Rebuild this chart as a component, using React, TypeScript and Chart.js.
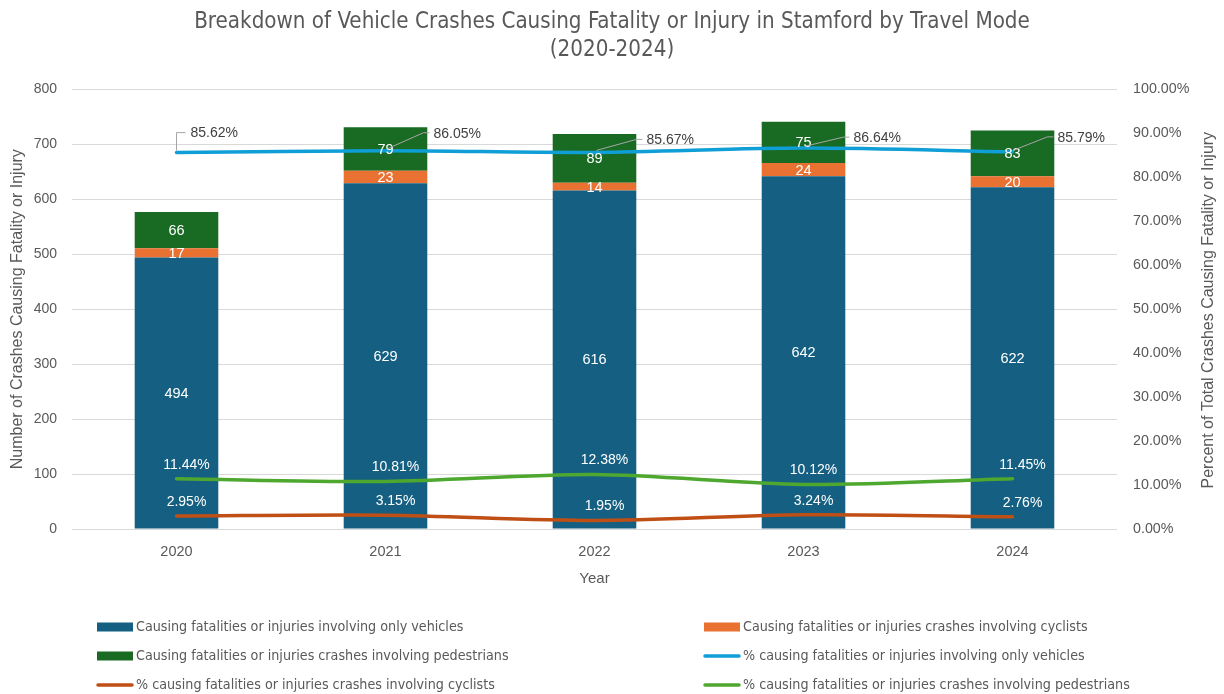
import React, { useEffect, useRef } from "react";
import { Chart, registerables } from "chart.js";

Chart.register(...registerables);

const years = ["2020", "2021", "2022", "2023", "2024"];
const vehiclesOnly = [494, 629, 616, 642, 622];
const cyclists = [17, 23, 14, 24, 20];
const pedestrians = [66, 79, 89, 75, 83];
const pctVehicles = [85.62, 86.05, 85.67, 86.64, 85.79];
const pctCyclists = [2.95, 3.15, 1.95, 3.24, 2.76];
const pctPedestrians = [11.44, 10.81, 12.38, 10.12, 11.45];

const seriesLabels = [
  "Causing fatalities or injuries involving only vehicles",
  "Causing fatalities or injuries crashes involving cyclists",
  "Causing fatalities or injuries crashes involving pedestrians",
  "% causing fatalities or injuries involving only vehicles",
  "% causing fatalities or injuries crashes involving cyclists",
  "% causing fatalities or injuries crashes involving pedestrians",
];

const titleLines = [
  "Breakdown of Vehicle Crashes Causing Fatality or Injury in Stamford by Travel Mode",
  "(2020-2024)",
];
const leftAxisTitle = "Number of Crashes Causing Fatality or Injury";
const rightAxisTitle = "Percent of Total Crashes Causing Fatality or Injury";
const xAxisTitle = "Year";

const GREY = "#595959";
const NARROW = '"Liberation Sans Narrow", "DejaVu Sans Condensed", "Arial Narrow", sans-serif';
const SANS = '"Liberation Sans", Arial, sans-serif';

// label offsets for the blue line callouts (annotation placement)
const calloutOffsets = [
  { dx: 14, dy: -20, elbow: true },
  { dx: 48, dy: -18, elbow: false },
  { dx: 52, dy: -13, elbow: false },
  { dx: 50, dy: -11, elbow: false },
  { dx: 45, dy: -15, elbow: false },
];

const labelsPlugin = {
  id: "customLabels",
  afterDatasetsDraw(chart: any) {
    const ctx = chart.ctx;
    ctx.save();
    chart.data.datasets.forEach((ds: any, di: number) => {
      const meta = chart.getDatasetMeta(di);
      if (meta.hidden) return;
      meta.data.forEach((el: any, i: number) => {
        const v = ds.data[i];
        if (ds.type === "bar") {
          const cy = (el.y + el.base) / 2;
          ctx.font = `14.5px ${SANS}`;
          ctx.fillStyle = "#ffffff";
          ctx.textAlign = "center";
          ctx.textBaseline = "middle";
          ctx.fillText(String(v), el.x, cy + 1);
        } else if (di === 3) {
          const o = calloutOffsets[i];
          const tx = el.x + o.dx;
          const ty = el.y + o.dy;
          ctx.strokeStyle = "#A6A6A6";
          ctx.lineWidth = 1;
          ctx.beginPath();
          if (o.elbow) {
            ctx.moveTo(el.x, el.y - 2);
            ctx.lineTo(el.x, ty);
            ctx.lineTo(tx - 5, ty);
          } else {
            ctx.moveTo(el.x + 2, el.y - 2);
            ctx.lineTo(tx - 10, ty);
            ctx.lineTo(tx - 4, ty);
          }
          ctx.stroke();
          ctx.font = `14px ${SANS}`;
          ctx.fillStyle = "#404040";
          ctx.textAlign = "left";
          ctx.textBaseline = "middle";
          ctx.fillText(v.toFixed(2) + "%", tx, ty + 1);
        } else {
          ctx.font = `14px ${SANS}`;
          ctx.fillStyle = "#ffffff";
          ctx.textAlign = "center";
          ctx.textBaseline = "middle";
          ctx.fillText(v.toFixed(2) + "%", el.x + 10, el.y - 14);
        }
      });
    });
    ctx.restore();
  },
  afterDraw(chart: any) {
    const ctx = chart.ctx;
    ctx.save();
    // right axis title, reading bottom-to-top
    const ca = chart.chartArea;
    ctx.save();
    ctx.translate(1209, (ca.top + ca.bottom) / 2 + 1);
    ctx.rotate(-Math.PI / 2);
    ctx.font = `16px ${SANS}`;
    ctx.fillStyle = GREY;
    ctx.textAlign = "center";
    ctx.textBaseline = "middle";
    ctx.fillText(rightAxisTitle, 0, 0);
    ctx.restore();
    // legend
    const colX = [97, 704];
    const rowY = [627, 656, 685];
    chart.data.datasets.forEach((ds: any, i: number) => {
      const col = i % 2;
      const row = Math.floor(i / 2);
      const x = colX[col];
      const y = rowY[row];
      if (ds.type === "bar") {
        ctx.fillStyle = ds.backgroundColor;
        ctx.fillRect(x, y - 4.5, 36, 9);
      } else {
        ctx.strokeStyle = ds.borderColor;
        ctx.lineWidth = 3.5;
        ctx.lineCap = "round";
        ctx.beginPath();
        ctx.moveTo(x + 1, y);
        ctx.lineTo(x + 35, y);
        ctx.stroke();
      }
      ctx.font = `14.2px ${NARROW}`;
      ctx.fillStyle = GREY;
      ctx.textAlign = "left";
      ctx.textBaseline = "middle";
      ctx.fillText(ds.label, x + 39, y);
    });
    ctx.restore();
  },
};

export default function App() {
  const ref = useRef<HTMLCanvasElement>(null);
  useEffect(() => {
    document.body.style.margin = "0";
    const canvas = ref.current!;
    const barCommon = { type: "bar" as const, yAxisID: "y", stack: "s", order: 2, categoryPercentage: 1, barPercentage: 0.4 };
    const lineCommon = { type: "line" as const, yAxisID: "y1", order: 1, pointRadius: 0, borderWidth: 3.5, tension: 0.3, fill: false, borderCapStyle: "round" as const };
    const chart = new Chart(canvas, {
      data: {
        labels: years,
        datasets: [
          { ...barCommon, label: seriesLabels[0], data: vehiclesOnly, backgroundColor: "#156082" },
          { ...barCommon, label: seriesLabels[1], data: cyclists, backgroundColor: "#E97132" },
          { ...barCommon, label: seriesLabels[2], data: pedestrians, backgroundColor: "#196B24" },
          { ...lineCommon, label: seriesLabels[3], data: pctVehicles, borderColor: "#0F9ED5", backgroundColor: "#0F9ED5" },
          { ...lineCommon, label: seriesLabels[4], data: pctCyclists, borderColor: "#C04F15", backgroundColor: "#C04F15" },
          { ...lineCommon, label: seriesLabels[5], data: pctPedestrians, borderColor: "#4EA72E", backgroundColor: "#4EA72E" },
        ] as any,
      },
      options: {
        responsive: false,
        animation: false,
        devicePixelRatio: 1,
        layout: { padding: { left: 0, right: 0, top: 0, bottom: 105 } },
        plugins: {
          legend: { display: false },
          tooltip: { enabled: false },
          title: {
            display: true,
            text: titleLines,
            color: GREY,
            font: { family: NARROW, size: 22.2, weight: "normal", lineHeight: 1.27 },
            padding: { top: 8, bottom: 25 },
          },
        },
        scales: {
          x: {
            stacked: true,
            grid: { display: false },
            border: { display: false },
            ticks: { color: GREY, font: { family: SANS, size: 14.5 }, padding: 6 },
            title: { display: true, text: xAxisTitle, color: GREY, font: { family: SANS, size: 15 }, padding: { top: 0, bottom: 1 } },
            afterFit: (s: any) => { s.height = 60; },
          },
          y: {
            stacked: true,
            position: "left",
            min: 0,
            max: 800,
            ticks: { stepSize: 100, color: GREY, font: { family: SANS, size: 14 }, padding: 15 },
            grid: { color: "#D9D9D9", drawTicks: false, lineWidth: 1 },
            border: { display: false },
            title: { display: true, text: leftAxisTitle, color: GREY, font: { family: SANS, size: 16 }, padding: { top: 7.5, bottom: 0 } },
            afterFit: (s: any) => { s.width = 72; },
          },
          y1: {
            position: "right",
            min: 0,
            max: 100,
            ticks: { stepSize: 10, color: GREY, font: { family: SANS, size: 14.3 }, padding: 16, callback: (v: any) => Number(v).toFixed(2) + "%" },
            grid: { display: false, drawTicks: false },
            border: { display: false },
            title: { display: false },
            afterFit: (s: any) => { s.width = 107; },
          },
        },
      } as any,
      plugins: [labelsPlugin],
    });
    return () => chart.destroy();
  }, []);
  return (
    <div style={{ width: 1224, height: 694, background: "#fff" }}>
      <canvas ref={ref} width={1224} height={694} />
    </div>
  );
}
